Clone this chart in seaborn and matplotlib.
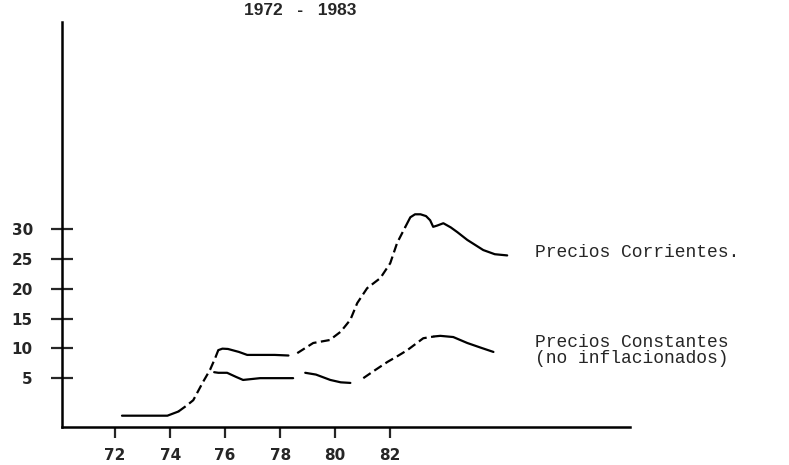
import numpy as np
import pandas as pd
import seaborn as sns
import matplotlib
matplotlib.use('Agg')
import matplotlib.pyplot as plt

# Precios Corrientes (upper curve), drawn in pieces as in the scan
corr_year = [72.25, 73.0, 73.9, 74.3,
             74.3, 74.6, 74.84, 75.2, 75.45, 75.64, 75.75,
             75.75, 75.9, 76.1, 76.5, 76.8, 77.3, 77.8, 78.3,
             78.62, 79.2, 79.8, 80.2, 80.55, 80.8, 81.16, 81.64, 82.0, 82.25, 82.55,
             82.55, 82.73, 82.9, 83.1, 83.3, 83.45, 83.56, 83.7, 83.93, 84.2, 84.44, 84.8, 85.38, 85.8, 86.25]
corr_val = [-1.3, -1.3, -1.3, -0.6,
            -0.6, 0.4, 1.3, 4.4, 6.4, 8.4, 9.7,
            9.7, 9.95, 9.9, 9.4, 8.9, 8.9, 8.9, 8.8,
            9.2, 10.9, 11.4, 12.8, 14.8, 17.6, 20.1, 21.8, 24.3, 27.7, 30.4,
            30.4, 32.0, 32.5, 32.5, 32.2, 31.5, 30.4, 30.6, 31.0, 30.3, 29.5, 28.2, 26.5, 25.8, 25.6]
corr_seg = [1] * 4 + [2] * 7 + [3] * 8 + [4] * 11 + [5] * 15

# Precios Constantes (lower curve)
const_year = [75.6, 75.75, 76.07, 76.4, 76.65, 77.27, 77.8, 78.47,
              78.91, 79.3, 79.82, 80.2, 80.55,
              81.02, 81.4, 81.89, 82.3, 82.62, 83.2, 83.6,
              83.6, 83.82, 84.29, 84.8, 85.3, 85.75]
const_val = [6.0, 5.9, 5.9, 5.2, 4.7, 5.0, 5.0, 5.0,
             5.9, 5.6, 4.7, 4.3, 4.2,
             5.0, 6.2, 7.7, 8.8, 9.7, 11.7, 12.0,
             12.0, 12.1, 11.9, 10.9, 10.1, 9.4]
const_seg = [6] * 8 + [7] * 5 + [8] * 7 + [9] * 6

x_ticks = [72, 74, 76, 78, 80, 82]
y_ticks = [5, 10, 15, 20, 25, 30]
title = '1972   -   1983'
label_corr = 'Precios Corrientes.'
label_const1 = 'Precios Constantes'
label_const2 = '(no inflacionados)'

dashed_segs = [2, 4, 8]

df = pd.DataFrame({'year': corr_year + const_year,
                   'val': corr_val + const_val,
                   'seg': corr_seg + const_seg})

sns.set_style('ticks')
plt.rcParams['font.family'] = ['DejaVu Sans']

fig = plt.figure(figsize=(7.89, 4.65), dpi=100)
ax = fig.add_axes([0.0786, 0.0817, 0.7194, 0.8713])

for s, d in df.groupby('seg'):
    sns.lineplot(data=d, x='year', y='val', ax=ax, sort=False, color='black',
                 linewidth=1.6, estimator=None,
                 linestyle=(0, (4, 2)) if s in dashed_segs else '-')

ax.set_xlim(70.07, 90.7)
ax.set_ylim(-3.2, 64.8)
ax.set_xticks(x_ticks)
ax.set_xticklabels([str(t) for t in x_ticks])
ax.set_yticks(y_ticks)
ax.set_yticklabels([str(t) for t in y_ticks])
ax.set_xlabel('')
ax.set_ylabel('')
sns.despine(ax=ax)
for sp in ['left', 'bottom']:
    ax.spines[sp].set_linewidth(1.8)
    ax.spines[sp].set_color('black')
ax.tick_params(axis='y', direction='inout', length=16, width=1.6, pad=13,
               labelsize=11)
ax.tick_params(axis='x', direction='out', length=8, width=1.6, pad=7,
               labelsize=11)
for lab in ax.get_xticklabels() + ax.get_yticklabels():
    lab.set_fontweight('bold')

fig.text(0.38, 0.978, title, ha='center', va='center', fontsize=12.5,
         fontweight='bold', family=['Liberation Sans'])
mono = ['Liberation Mono', 'DejaVu Sans Mono']
ax.text(0.833, 0.43, label_corr, transform=ax.transAxes, ha='left',
        va='center', fontsize=13, family=mono)
ax.text(0.833, 0.209, label_const1, transform=ax.transAxes, ha='left',
        va='center', fontsize=13, family=mono)
ax.text(0.833, 0.168, label_const2, transform=ax.transAxes, ha='left',
        va='center', fontsize=13, family=mono)

fig.savefig('out.png', dpi=100)
